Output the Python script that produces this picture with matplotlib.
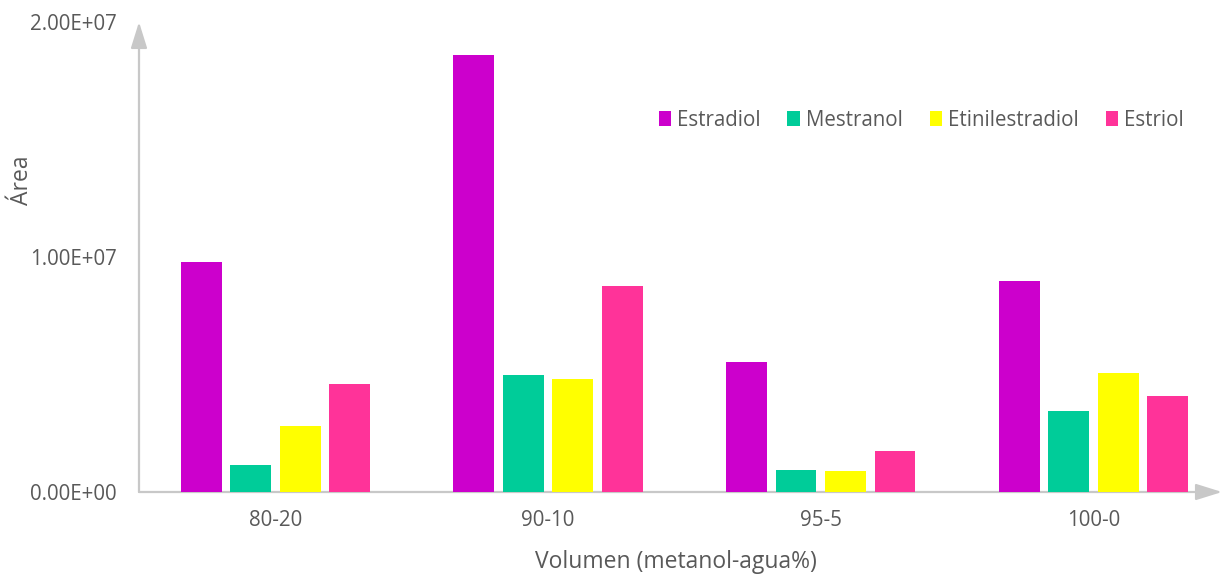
import matplotlib
matplotlib.use("Agg")
import matplotlib.pyplot as plt
import numpy as np
from matplotlib.patches import Patch

categories = ["80-20", "90-10", "95-5", "100-0"]
series_names = ["Estradiol", "Mestranol", "Etinilestradiol", "Estriol"]
estradiol = [9.8e6, 1.86e7, 5.53e6, 8.98e6]
mestranol = [1.15e6, 4.98e6, 0.94e6, 3.45e6]
etinilestradiol = [2.8e6, 4.81e6, 0.89e6, 5.06e6]
estriol = [4.6e6, 8.77e6, 1.74e6, 4.09e6]
yticks = [0, 1e7, 2e7]
ytick_labels = ["0.00E+00", "1.00E+07", "2.00E+07"]

colors = ["#CC00CC", "#00CC99", "#FFFF00", "#FF3399"]
plt.rcParams['font.family'] = ['Open Sans', 'DejaVu Sans']
txt = "#595959"

fig = plt.figure(figsize=(12.25, 5.76), dpi=100)
ax = fig.add_axes([139/1225, 1-492/576, (1222-139)/1225, (492-22)/576])

x = np.arange(len(categories))
w = 0.15
pitch = 0.1815
data = [estradiol, mestranol, etinilestradiol, estriol]
for i, (vals, c, n) in enumerate(zip(data, colors, series_names)):
    ax.bar(x + (i - 1.5) * pitch, vals, width=w, color=c, label=n, zorder=2)

ax.set_xlim(-0.5, -0.5 + (1222-139)/272.7)
ax.set_ylim(0, 2e7)
ax.set_yticks(yticks)
ax.set_yticklabels(ytick_labels)
ax.set_xticks(x)
ax.set_xticklabels(categories)
ax.tick_params(axis='both', length=0, labelsize=14.8, labelcolor=txt)
ax.tick_params(axis='y', pad=16)
ax.tick_params(axis='x', pad=13)
for s in ax.spines.values():
    s.set_visible(False)

# axis arrows
ax.annotate("", xy=(0, 1.0), xytext=(0, 0), xycoords='axes fraction',
            arrowprops=dict(arrowstyle='-|>,head_length=1.6,head_width=0.5', color='#C8C8C8', lw=1.6, shrinkA=0, shrinkB=0),
            annotation_clip=False, zorder=1)
ax.annotate("", xy=(1.0, 0), xytext=(0, 0), xycoords='axes fraction',
            arrowprops=dict(arrowstyle='-|>,head_length=1.6,head_width=0.5', color='#C8C8C8', lw=1.6, shrinkA=0, shrinkB=0),
            annotation_clip=False, zorder=1)

fig.text(676/1225, 1-562/576, "Volumen (metanol-agua%)", ha='center', va='center', fontsize=16.5, color=txt)
fig.text(22/1225, 1-180/576, "Área", ha='center', va='center', rotation=90, fontsize=16.5, color=txt)

handles = [Patch(facecolor=c, label=n) for c, n in zip(colors, series_names)]
fig.legend(handles=handles, loc='center right', bbox_to_anchor=(1192/1225, 1-120/576), ncol=4,
           frameon=False, fontsize=14.8, handlelength=0.6, handleheight=0.75, handletextpad=0.3,
           columnspacing=1.3, labelcolor=txt, borderaxespad=0)

fig.savefig("out.png", dpi=100, facecolor='white')
